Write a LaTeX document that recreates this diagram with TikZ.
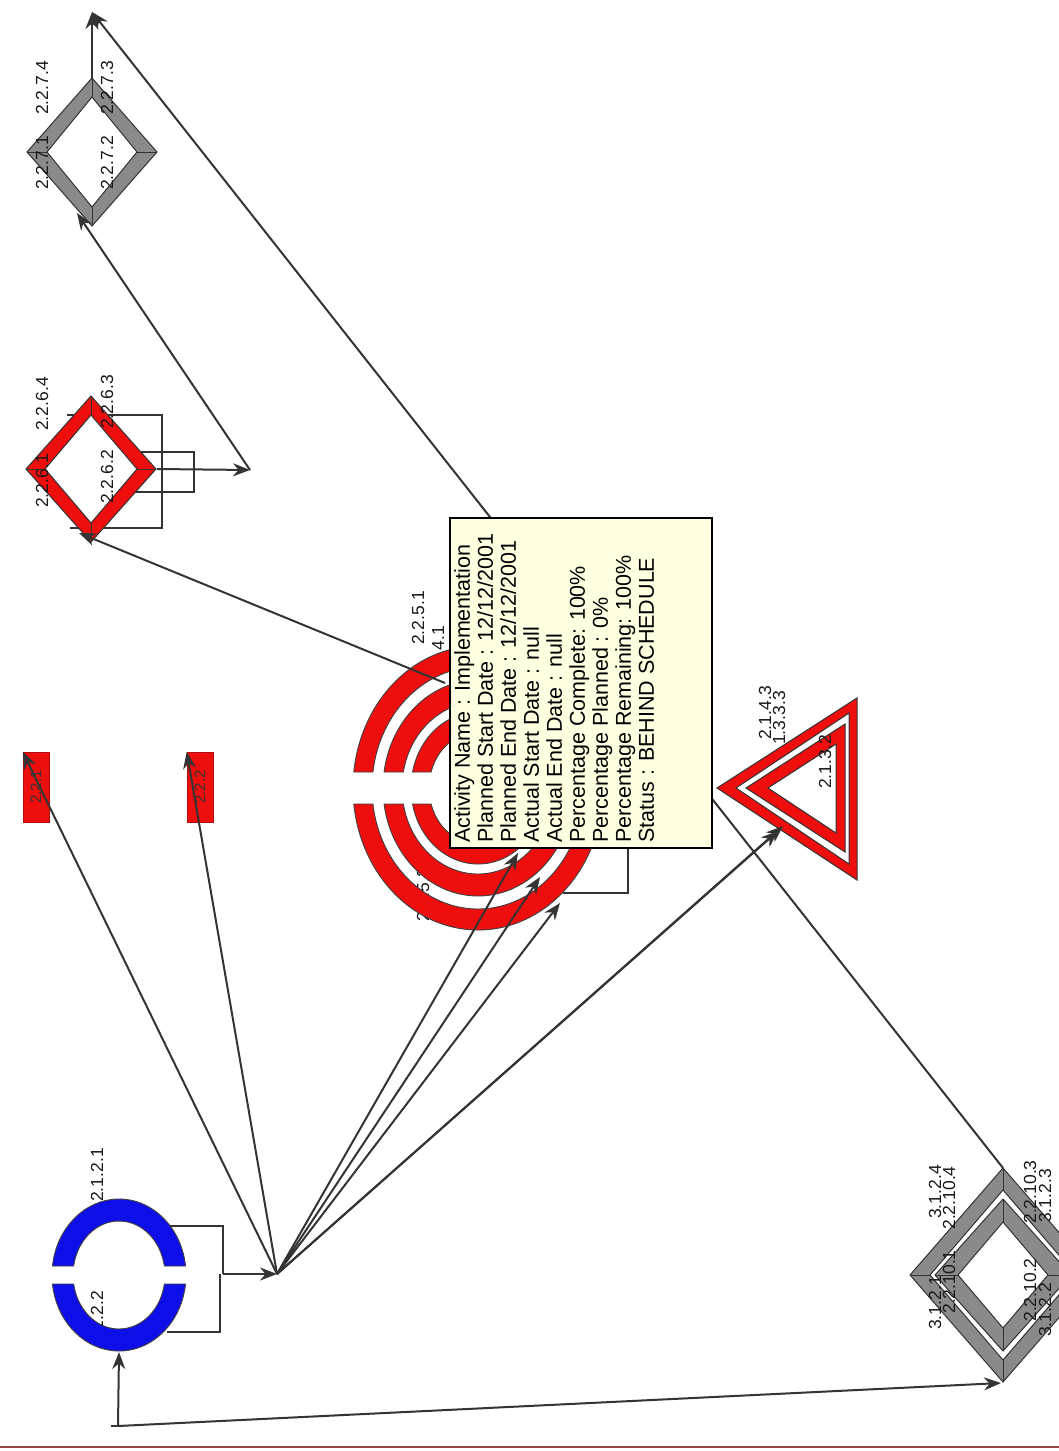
\documentclass[tikz,border=0pt]{standalone}
\usepackage{fontspec}
\setmainfont{Liberation Sans}
\usetikzlibrary{arrows.meta,calc}
\definecolor{ared}{RGB}{238,14,14}
\definecolor{agray}{RGB}{138,138,138}
\definecolor{ablue}{RGB}{14,14,232}
\definecolor{aline}{RGB}{52,52,52}
\definecolor{tipbg}{RGB}{255,255,226}
\definecolor{aborder}{RGB}{150,70,70}
\newcommand{\dring}[7]{%
  \path[shp, fill=#7, even odd rule] (#1-#3,#2) -- (#1,#2-#4) -- (#1+#3,#2) -- (#1,#2+#4) -- cycle
     (#1-#5,#2) -- (#1,#2-#6) -- (#1+#5,#2) -- (#1,#2+#6) -- cycle;
  \draw[shp] (#1-#3,#2) -- (#1-#5,#2) (#1+#3,#2) -- (#1+#5,#2)
     (#1,#2-#4) -- (#1,#2-#6) (#1,#2+#4) -- (#1,#2+#6);}
\newcommand{\ringpart}[8]{%
  \pgfmathsetmacro{\rgA}{asin(#7/#4)}%
  \pgfmathsetmacro{\rgB}{asin(#7/#6)}%
  \path[ringsty, fill=#8] ($(#1,#2)+(\rgA:#3 and #4)$) arc[start angle=\rgA, end angle=180-\rgA, x radius=#3, y radius=#4]
     -- ($(#1,#2)+(180-\rgB:#5 and #6)$) arc[start angle=180-\rgB, end angle=\rgB, x radius=#5, y radius=#6] -- cycle;
  \path[ringsty, fill=#8] ($(#1,#2)+(-\rgA:#3 and #4)$) arc[start angle=-\rgA, end angle=-180+\rgA, x radius=#3, y radius=#4]
     -- ($(#1,#2)+(-180+\rgB:#5 and #6)$) arc[start angle=-180+\rgB, end angle=-\rgB, x radius=#5, y radius=#6] -- cycle;}
\begin{document}
\begin{tikzpicture}[x=1pt,y=-1pt,
  conn/.style={draw=aline, line width=2pt},
  arr/.style={conn, -{Stealth[length=17pt,width=13pt]}},
  brk/.style={draw=aline, line width=1.4pt},
  shp/.style={draw=black!80, line width=1pt},
  ringsty/.style={draw=black!75, line width=0.9pt},
  lbl/.style={rotate=90, font=\fontsize{17.5}{18}\selectfont, inner sep=0pt, text=black!90},
  redbox/.style={fill=ared, draw=ared!75!black, line width=0.6pt, rotate=90, minimum width=70pt, minimum height=26pt, inner sep=0pt, font=\fontsize{15}{15}\selectfont, text=black!80}
]
\useasboundingbox (0,0) rectangle (1059,1451);
\fill[white] (0,0) rectangle (1059,1451);

% junction points
\coordinate (J1) at (92,12);
\coordinate (P1) at (250,470);
\coordinate (H) at (277,1274);
\coordinate (P2) at (118,1426);
\coordinate (P2s) at (111,1426);

% attachment points
\coordinate (d227top) at (92,79);
\coordinate (d227bl) at (77,213);
\coordinate (d226r) at (157,469);
\coordinate (d226bl) at (79,533);
\coordinate (c225a) at (445,683);
\coordinate (c225b) at (518,853);
\coordinate (c225c) at (540,877);
\coordinate (c225d) at (560,903);
\coordinate (c225r) at (563,893);
\coordinate (c225q) at (628,835);
\coordinate (t313a) at (783,826);
\coordinate (t313b) at (778,831);
\coordinate (c212b) at (119,1352);
\coordinate (c212u) at (170,1226);
\coordinate (c212d) at (167,1332);
\coordinate (d312top) at (1003,1168);
\coordinate (d312bot) at (1001,1383);

% bracket connectors (behind shapes)
\draw[brk] (67,415) -- (162,415) -- (162,528) -- (70,528);
\draw[brk] (130,452) -- (194,452) -- (194,492) -- (130,492);
\draw[brk] (c225r) -| (c225q);
\draw[brk] (c212u) -| (223,1274);
\draw[brk] (c212d) -| (220,1274);

% label under rings
\node[lbl] (l2252) at (423,895) {2.2.5.2};
\node[lbl] (l2122) at (97,1318) {2.1.2.2};

% shapes
\dring{92}{152}{65}{74}{45}{55}{agray}
\dring{91}{469}{65}{73}{46}{54}{ared}
\dring{1003}{1275}{93}{107}{73}{85}{agray}
\dring{1003}{1275}{68}{76}{45}{53}{agray}

\ringpart{119}{1275}{67}{76}{46}{54}{9}{ablue}
\ringpart{478}{788}{125}{142}{106}{121}{16}{ared}
\ringpart{478}{788}{95}{108}{76}{86}{16}{ared}
\ringpart{478}{788}{67}{76}{49}{56}{16}{ared}

\path[shp, fill=ared, even odd rule] (717,788) -- (857,698) -- (857,880) -- cycle
   (736,788) -- (849,713) -- (849,864) -- cycle;
\path[shp, fill=ared, even odd rule] (746,788) -- (845,724) -- (845,852) -- cycle
   (768,788) -- (836,744) -- (836,833) -- cycle;

\node[redbox] (n221) at (36,787) {2.2.1};
\node[redbox] (n222) at (200,787) {2.2.2};

% labels
\node[lbl] (l2274) at (42,88) {2.2.7.4};
\node[lbl] (l2271) at (42,163) {2.2.7.1};
\node[lbl] (l2273) at (107,88) {2.2.7.3};
\node[lbl] (l2272) at (107,163) {2.2.7.2};
\node[lbl] (l2264) at (42,404) {2.2.6.4};
\node[lbl] (l2261) at (42,481) {2.2.6.1};
\node[lbl] (l2263) at (107,402) {2.2.6.3};
\node[lbl] (l2262) at (107,477) {2.2.6.2};
\node[lbl] (l2251) at (418,618) {2.2.5.1};
\node[lbl] (l41) at (438,638) {4.1};
\node[lbl] (l2121) at (97,1175) {2.1.2.1};
\node[lbl] (l2143) at (765,713) {2.1.4.3};
\node[lbl] (l1333) at (779,718) {1.3.3.3};
\node[lbl] (l2132) at (825,762) {2.1.3.2};
\node[lbl] (l3124) at (935,1192) {3.1.2.4};
\node[lbl] (l22104) at (949,1198) {2.2.10.4};
\node[lbl] (l3121) at (935,1303) {3.1.2.1};
\node[lbl] (l22101) at (949,1282) {2.2.10.1};
\node[lbl] (l22103) at (1030,1192) {2.2.10.3};
\node[lbl] (l3123) at (1045,1196) {3.1.2.3};
\node[lbl] (l22102) at (1030,1290) {2.2.10.2};
\node[lbl] (l3122) at (1045,1310) {3.1.2.2};

% connectors
\draw[arr] (d227top) -- (J1);
\draw[arr] (d312top) -- (J1);
\draw[arr] (P1) -- (d227bl);
\draw[arr] (d226r) -- (P1);
\draw[arr] (c225a) -- (d226bl);
\draw[arr] (223,1274) -- (H);
\draw[arr] (H) -- (n221.north east);
\draw[arr] (H) -- (n222.north east);
\draw[arr] (H) -- (c225b);
\draw[arr] (H) -- (c225c);
\draw[arr] (H) -- (c225d);
\draw[arr] (H) -- (t313a);
\draw[arr] (H) -- (t313b);
\draw[conn] (P2s) -- (P2);
\draw[arr] (P2) -- (c212b);
\draw[arr] (P2) -- (d312bot);

% tooltip
\node[draw=black, line width=1.6pt, fill=tipbg, minimum width=262pt, minimum height=330pt, inner sep=0pt, anchor=north west] (tip) at (449,517) {};
\node[rotate=90, anchor=north west, align=left, inner sep=0pt, font=\fontsize{21.5}{23}\selectfont] (tiptext) at (454,843)
 {Activity Name : Implementation\\
  Planned Start Date : 12/12/2001\\
  Planned End Date : 12/12/2001\\
  Actual Start Date : null\\
  Actual End Date : null\\
  Percentage Complete: 100\%\\
  Percentage Planned : 0\%\\
  Percentage Remaining: 100\%\\
  Status : BEHIND SCHEDULE};

% bottom border
\draw[aborder, line width=2pt] (0,1447) -- (1059,1447);
\end{tikzpicture}
\end{document}
